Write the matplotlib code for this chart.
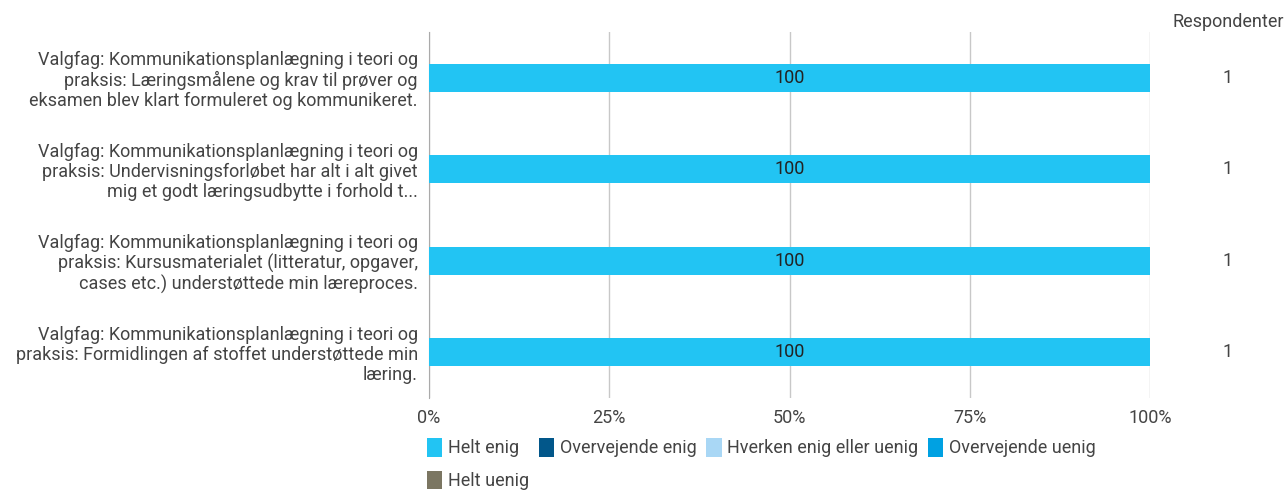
import matplotlib.pyplot as plt
from matplotlib.patches import Patch

plt.rcParams['font.family'] = ['Roboto', 'DejaVu Sans']

questions = [
    "Valgfag: Kommunikationsplanlægning i teori og\npraksis: Læringsmålene og krav til prøver og\neksamen blev klart formuleret og kommunikeret.",
    "Valgfag: Kommunikationsplanlægning i teori og\npraksis: Undervisningsforløbet har alt i alt givet\nmig et godt læringsudbytte i forhold t...",
    "Valgfag: Kommunikationsplanlægning i teori og\npraksis: Kursusmaterialet (litteratur, opgaver,\ncases etc.) understøttede min læreproces.",
    "Valgfag: Kommunikationsplanlægning i teori og\npraksis: Formidlingen af stoffet understøttede min\nlæring.",
]
categories = ["Helt enig", "Overvejende enig", "Hverken enig eller uenig",
              "Overvejende uenig", "Helt uenig"]
colors = ["#22c4f3", "#02578a", "#a9d7f5", "#00a1e2", "#7b7662"]
helt_enig = [100, 100, 100, 100]
overvejende_enig = [0, 0, 0, 0]
hverken = [0, 0, 0, 0]
overvejende_uenig = [0, 0, 0, 0]
helt_uenig = [0, 0, 0, 0]
respondents = [1, 1, 1, 1]

series = [helt_enig, overvejende_enig, hverken, overvejende_uenig, helt_uenig]
fs = 13

fig = plt.figure(figsize=(12.85, 4.91), dpi=100)
ax = fig.add_axes([429 / 1285, 1 - 398 / 491, (1150 - 429) / 1285, 366 / 491])

y = list(range(len(questions)))
left = [0] * len(questions)
for vals, col in zip(series, colors):
    ax.barh(y, vals, left=left, height=0.31, color=col, zorder=3)
    for yi, v, l in zip(y, vals, left):
        if v > 0:
            ax.text(l + v / 2, yi, str(v), ha='center', va='center',
                    fontsize=fs, color='#222222', zorder=4)
    left = [a + b for a, b in zip(left, vals)]

ax.set_xlim(0, 100)
ax.set_ylim(len(questions) - 0.5, -0.5)
ax.set_xticks([0, 25, 50, 75, 100])
ax.set_xticklabels(["0%", "25%", "50%", "75%", "100%"], fontsize=fs, color='#444444')
ax.set_yticks(y)
ax.set_yticklabels(questions, fontsize=fs, color='#444444', linespacing=1.12)
ax.tick_params(axis='y', length=0, pad=8)
ax.tick_params(axis='x', length=0, pad=8)
ax.grid(axis='x', color='#c8c8c8', linewidth=1, zorder=0)
for s in ['top', 'right', 'bottom']:
    ax.spines[s].set_visible(False)
ax.spines['left'].set_color('#aaaaaa')

# respondent column
fig.text(1228 / 1285, 1 - 22 / 491, "Respondenter", ha='center', va='center',
         fontsize=fs, color='#444444')
for yi, r in zip(y, respondents):
    ax.text(1228 / 1285, yi, str(r), transform=ax.get_yaxis_transform().__class__(fig.transFigure, ax.transData),
            ha='center', va='center', fontsize=fs, color='#444444')

handles = [Patch(facecolor=c, edgecolor='none') for c in colors]
order = [0, 4, 1, 2, 3]
fig.legend([handles[i] for i in order], [categories[i] for i in order],
           ncol=4, loc='upper left', bbox_to_anchor=(427 / 1285, 1 - 438 / 491),
           frameon=False, fontsize=fs, handlelength=0.85, handleheight=1.2,
           handletextpad=0.3, columnspacing=0.55, labelspacing=0.75,
           labelcolor='#444444', borderaxespad=0, borderpad=0)

fig.savefig("out.png", dpi=100)
